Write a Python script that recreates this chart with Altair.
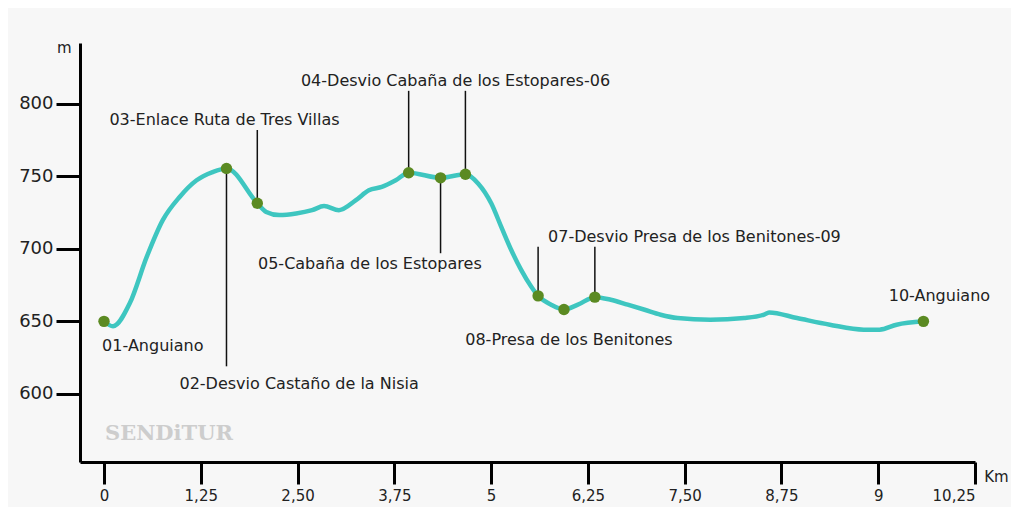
import altair as alt
import pandas as pd

# Elevation profile (km, m)
profile_km = [0.00, 0.116, 0.334, 0.553, 0.759, 0.977, 1.196, 1.402, 1.582, 1.980,
              2.096, 2.263, 2.482, 2.688, 2.842, 3.035, 3.254, 3.421, 3.588, 3.768,
              3.935, 4.347, 4.668, 4.835, 5.003, 5.131, 5.260, 5.388, 5.517, 5.607,
              5.774, 5.941, 6.121, 6.340, 6.546, 6.764, 6.983, 7.189, 7.407, 7.832,
              8.269, 8.526, 8.590, 8.951, 9.375, 9.812, 10.018, 10.237, 10.584]
profile_m = [650, 646.6, 662.6, 694.6, 719.8, 735.8, 747.3, 753, 755.5, 731.5,
             725.5, 723.3, 724.4, 726.7, 729.5, 726.7, 733.6, 740.4, 742.7, 747.3,
             752.5, 749, 751.5, 745, 731.3, 715.2, 699.2, 685.5, 674, 667.6,
             661.5, 658.2, 661.5, 666.7, 664.9, 661.5, 658, 654.6, 652.3, 651.1,
             652.3, 654.6, 656.2, 652.3, 647.7, 644.3, 644.3, 647.7, 650]

# Waypoints
wp_km = [0, 1.582, 1.980, 3.935, 4.347, 4.668, 5.607, 5.941, 6.340, 10.584]
wp_m = [650, 755.5, 731.5, 752.5, 749, 751.5, 667.6, 658.2, 666.7, 650]

# Leader lines (km, from elevation, to elevation)
lead_km = [1.582, 1.980, 3.935, 4.347, 4.668, 5.607, 6.340]
lead_from = [755.5, 731.5, 752.5, 749, 751.5, 667.6, 666.7]
lead_to = [619, 782, 809, 697, 809, 701.5, 701.5]

# Waypoint labels
label_text = ["01-Anguiano", "02-Desvio Castaño de la Nisia", "03-Enlace Ruta de Tres Villas",
              "04-Desvio Cabaña de los Estopares-06", "05-Cabaña de los Estopares",
              "07-Desvio Presa de los Benitones-09", "08-Presa de los Benitones", "10-Anguiano"]
label_km = [0.63, 2.52, 1.556, 4.54, 3.434, 7.626, 6.005, 10.79]
label_m = [632.8, 606.7, 788.7, 815.5, 689.8, 708.4, 637, 667.2]

# Axis ticks
x_ticks = [0, 1.25, 2.5, 3.75, 5, 6.25, 7.5, 8.75, 10, 11.25]
x_tick_labels = ["0", "1,25", "2,50", "3,75", "5", "6,25", "7,50", "8,75", "9", "10,25"]
y_ticks = [600, 650, 700, 750, 800]

FONT = "DejaVu Sans"

prof = pd.DataFrame({"km": profile_km, "m": profile_m})
wps = pd.DataFrame({"km": wp_km, "m": wp_m})
leads = pd.DataFrame({"km": lead_km, "m": lead_from, "m2": lead_to})
labels = pd.DataFrame({"km": label_km, "m": label_m, "t": label_text})

label_arr = "[" + ",".join("'" + s + "'" for s in x_tick_labels) + "]"

xscale = alt.Scale(domain=[-0.31, 11.25], nice=False, zero=False)
yscale = alt.Scale(domain=[553, 842], nice=False, zero=False)

x_axis = alt.Axis(values=x_ticks, labelExpr=label_arr + "[round(datum.value/1.25)]",
                  grid=False, domainColor="black", domainWidth=3, tickColor="black",
                  tickWidth=3, tickSize=22, labelFont=FONT, labelFontSize=15,
                  labelColor="#222", labelPadding=4, title="Km", titleFont=FONT,
                  titleFontSize=15, titleFontWeight="normal", titleColor="#222",
                  titleX=916, titleY=14, titleAlign="center", titleBaseline="middle")
y_axis = alt.Axis(values=y_ticks, grid=False, domainColor="black", domainWidth=3,
                  tickColor="black", tickWidth=3, tickSize=24, labelFont=FONT,
                  labelFontSize=18, labelColor="#222", labelPadding=3, title="m",
                  titleAngle=0, titleFont=FONT, titleFontSize=15, titleFontWeight="normal",
                  titleColor="#222", titleX=-9, titleY=4, titleAlign="right",
                  titleBaseline="middle")

base_x = alt.X("km:Q", scale=xscale, axis=x_axis)
base_y = alt.Y("m:Q", scale=yscale, axis=y_axis)

watermark = alt.Chart(pd.DataFrame({"t": ["SENDiTUR"]})).mark_text(
    font="DejaVu Serif", fontSize=21, fontWeight="bold", color="#cdcdcd", align="left",
    baseline="middle").encode(x=alt.value(25), y=alt.value(391), text="t:N")

line = alt.Chart(prof).mark_line(color="#3ec6c0", strokeWidth=4.5, interpolate="monotone",
                                 strokeCap="round").encode(x=base_x, y=base_y)

rules = alt.Chart(leads).mark_rule(color="#111", strokeWidth=1.5).encode(
    x="km:Q", y="m:Q", y2="m2:Q")

dots = alt.Chart(wps).mark_circle(color="#5b8a22", size=130, opacity=1).encode(
    x="km:Q", y="m:Q")

texts = alt.Chart(labels).mark_text(font=FONT, fontSize=16, color="#222", align="center",
                                    baseline="middle").encode(x="km:Q", y="m:Q", text="t:N")

chart = alt.layer(watermark, line, rules, dots, texts).properties(
    width=895, height=419, background="#f7f7f7",
    autosize=alt.AutoSizeParams(type="none"),
    padding={"left": 72, "top": 35, "right": 36, "bottom": 45}
).configure_view(stroke=None)

chart.save("out.html", embed_options={"renderer": "svg", "actions": False})
